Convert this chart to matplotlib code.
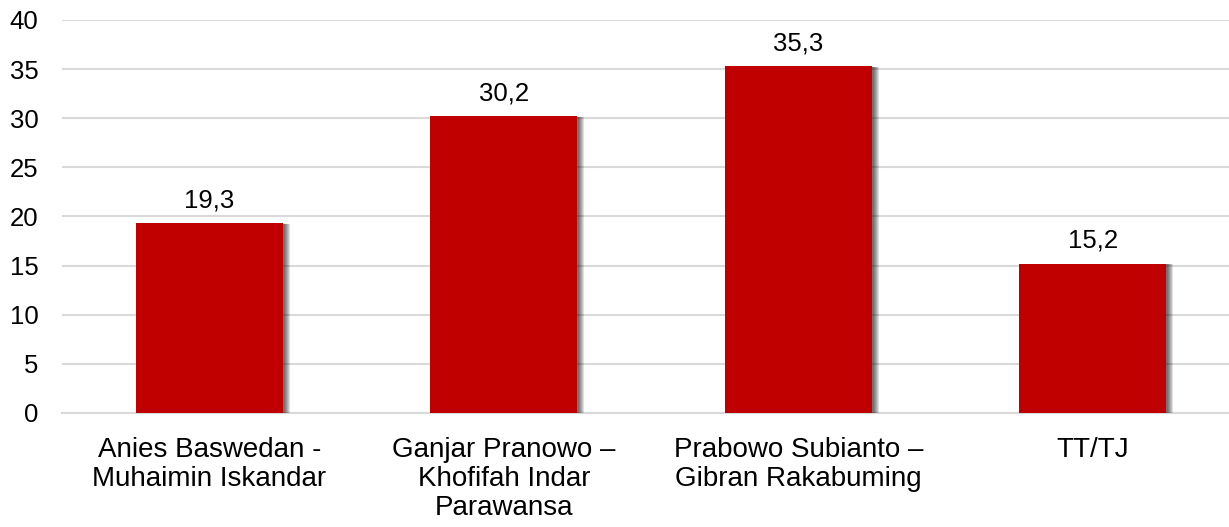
import matplotlib.pyplot as plt
import matplotlib.patheffects as pe

categories = [
    "Anies Baswedan -\nMuhaimin Iskandar",
    "Ganjar Pranowo \u2013\nKhofifah Indar\nParawansa",
    "Prabowo Subianto \u2013\nGibran Rakabuming",
    "TT/TJ",
]
values = [19.3, 30.2, 35.3, 15.2]
yticks = [0, 5, 10, 15, 20, 25, 30, 35, 40]

plt.rcParams["font.family"] = ["Liberation Sans", "DejaVu Sans"]

fig = plt.figure(figsize=(12.29, 5.27), dpi=100)
ax = fig.add_axes([62 / 1229, 114 / 527, 1178 / 1229, 393 / 527])

x = list(range(len(categories)))
bars = ax.bar(x, values, width=0.5, color="#c00000", zorder=3)

# soft drop shadow on the right side
shadow = []
for off in [7, 6, 5, 4, 3, 2]:
    shadow.append(pe.SimplePatchShadow(offset=(off * 0.72, -0.5), shadow_rgbFace="#000000", alpha=0.12))
for b in bars:
    b.set_path_effects(shadow + [pe.Normal()])

for xi, v in zip(x, values):
    ax.annotate(f"{v:.1f}".replace(".", ","), (xi, v), xytext=(0, 8),
                textcoords="offset points", ha="center", va="bottom", fontsize=18.5, color="#000000")

ax.set_xlim(-0.5, len(categories) - 0.5)
ax.set_ylim(0, 40)
ax.set_yticks(yticks)
ax.set_xticks(x)
ax.set_xticklabels(categories, fontsize=20, linespacing=1.15)
ax.tick_params(axis="y", labelsize=18.5, length=0, pad=17)
ax.tick_params(axis="x", length=0, pad=17)
ax.grid(axis="y", color="#d9d9d9", linewidth=1.5, zorder=0)
for s in ["top", "right", "left"]:
    ax.spines[s].set_visible(False)
ax.spines["bottom"].set_color("#d9d9d9")
ax.spines["bottom"].set_linewidth(1.5)

fig.savefig("out.png", dpi=100)
